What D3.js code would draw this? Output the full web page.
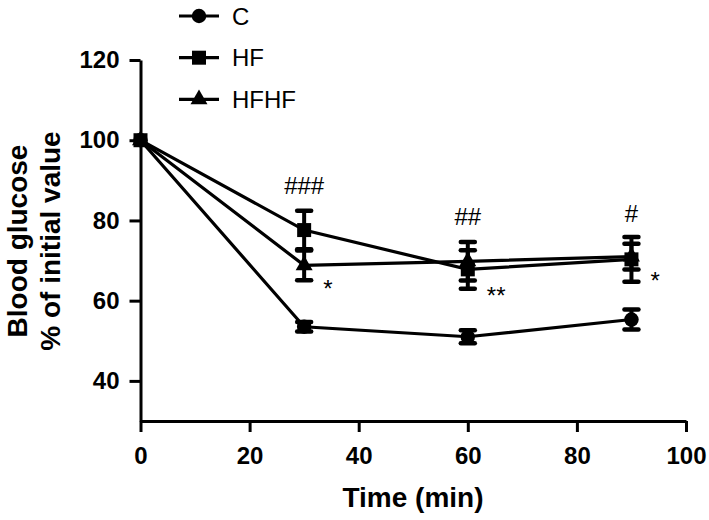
<!DOCTYPE html>
<html><head><meta charset="utf-8">
<script src="https://cdn.jsdelivr.net/npm/d3@7"></script>
<style>body{margin:0;background:#fff}svg{display:block}text{font-family:"Liberation Sans",Arial,sans-serif;fill:#000}</style>
</head><body><svg id="c" width="709" height="520"></svg>
<script>
const time = [0, 30, 60, 90];
const seriesNames = ["C", "HF", "HFHF"];
const valuesC = [100, 53.5, 51.0, 55.3];
const errC = [0, 1.2, 1.6, 2.5];
const valuesHF = [100, 77.6, 67.8, 70.3];
const errHF = [0, 4.8, 4.8, 5.6];
const valuesHFHF = [100, 68.8, 69.8, 71.0];
const errHFHF = [0, 3.7, 4.8, 3.2];
const xTicks = [0, 20, 40, 60, 80, 100];
const yTicks = [40, 60, 80, 100, 120];
const annotTop = [{t: 30, v: 88.8, s: "###"}, {t: 60, v: 80.9, s: "##"}, {t: 90, v: 81.8, s: "#"}];
const annotStar = [{t: 30, v: 61.0, s: "*"}, {t: 60, v: 59.2, s: "**"}, {t: 90, v: 62.9, s: "*"}];

const series = [
  {name: "C", vals: valuesC, err: errC, shape: d3.symbolCircle},
  {name: "HF", vals: valuesHF, err: errHF, shape: d3.symbolSquare},
  {name: "HFHF", vals: valuesHFHF, err: errHFHF, shape: d3.symbolTriangle}
];

const svg = d3.select("#c");
const x = d3.scaleLinear().domain([0, 100]).range([140.5, 686]);
const y = d3.scaleLinear().domain([30, 120]).range([421, 60]);

const gx = svg.append("g").attr("transform", "translate(0,421)")
  .call(d3.axisBottom(x).tickValues(xTicks).tickSize(11).tickSizeOuter(0).tickPadding(15));
const gy = svg.append("g").attr("transform", "translate(140.5,0)")
  .call(d3.axisLeft(y).tickValues(yTicks).tickSize(11).tickSizeOuter(0).tickPadding(10));
[gx, gy].forEach(g => {
  g.select(".domain").attr("stroke", "#000").attr("stroke-width", 3);
  g.selectAll(".tick line").attr("stroke", "#000").attr("stroke-width", 3);
  g.selectAll(".tick text").attr("font-size", 24).attr("font-weight", "bold")
    .attr("font-family", "'Liberation Sans', Arial, sans-serif").attr("fill", "#000");
});

svg.append("text").attr("x", 413).attr("y", 507).attr("text-anchor", "middle")
  .attr("font-size", 28).attr("font-weight", "bold").text("Time (min)");
svg.append("text").attr("transform", "translate(17,241) rotate(-90)").attr("dy", "0.35em")
  .attr("text-anchor", "middle").attr("font-size", 28).attr("font-weight", "bold").text("Blood glucose");
svg.append("text").attr("transform", "translate(50,241) rotate(-90)").attr("dy", "0.35em")
  .attr("text-anchor", "middle").attr("font-size", 28).attr("font-weight", "bold").text("% of initial value");

const line = d3.line().x((d, i) => x(time[i])).y(d => y(d));
const sizeOf = s => s === d3.symbolCircle ? 165 : (s === d3.symbolSquare ? 196 : 125);

series.forEach(s => {
  svg.append("path").datum(s.vals).attr("d", line).attr("fill", "none")
    .attr("stroke", "#000").attr("stroke-width", 3.2);
});
series.forEach(s => {
  const g = svg.append("g");
  s.vals.forEach((v, i) => {
    if (!s.err[i]) return;
    const cx = x(time[i]), y1 = y(v + s.err[i]), y2 = y(v - s.err[i]);
    g.append("line").attr("x1", cx).attr("x2", cx).attr("y1", y1).attr("y2", y2)
      .attr("stroke", "#000").attr("stroke-width", 4);
    [y1, y2].forEach(yy => g.append("line").attr("x1", cx - 7).attr("x2", cx + 7)
      .attr("y1", yy).attr("y2", yy).attr("stroke", "#000").attr("stroke-width", 4.5)
      .attr("stroke-linecap", "round"));
  });
});
series.forEach(s => {
  svg.append("g").selectAll("path").data(s.vals).join("path")
    .attr("transform", (d, i) => `translate(${x(time[i])},${y(d)})`)
    .attr("d", d3.symbol().type(s.shape).size(sizeOf(s.shape))).attr("fill", "#000");
});

annotTop.forEach(a => svg.append("text").attr("x", x(a.t)).attr("y", y(a.v))
  .attr("dy", "0.35em").attr("text-anchor", "middle").attr("font-size", 24).text(a.s));
annotStar.forEach(a => svg.append("text").attr("x", x(a.t) + 19).attr("y", y(a.v))
  .attr("text-anchor", "start").attr("font-size", 24).text(a.s));

const legY = [16, 57.7, 99.3];
series.forEach((s, i) => {
  const g = svg.append("g").attr("transform", `translate(0,${legY[i]})`);
  g.append("line").attr("x1", 179).attr("x2", 219).attr("stroke", "#000").attr("stroke-width", 3.2);
  g.append("path").attr("transform", "translate(199,0)")
    .attr("d", d3.symbol().type(s.shape).size(sizeOf(s.shape))).attr("fill", "#000");
  g.append("text").attr("x", 232).attr("dy", "0.36em").attr("font-size", 24).text(seriesNames[i]);
});
</script></body></html>
